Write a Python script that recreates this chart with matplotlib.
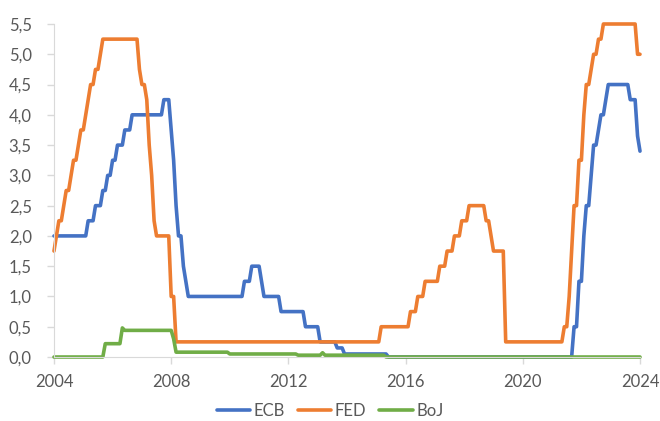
import matplotlib
matplotlib.use("Agg")
import matplotlib.pyplot as plt
import numpy as np
import pandas as pd

# ---- data: policy-rate changes (month, new rate), held until the next change ----
start_month = "2004-10"
end_month = "2024-10"

ecb_changes = [
    ("2004-10", 2.0), ("2005-12", 2.25), ("2006-03", 2.5), ("2006-06", 2.75),
    ("2006-08", 3.0), ("2006-10", 3.25), ("2006-12", 3.5), ("2007-03", 3.75),
    ("2007-06", 4.0), ("2008-07", 4.25), ("2008-10", 3.75), ("2008-11", 3.25),
    ("2008-12", 2.5), ("2009-01", 2.0), ("2009-03", 1.5), ("2009-04", 1.25),
    ("2009-05", 1.0), ("2011-04", 1.25), ("2011-07", 1.5), ("2011-11", 1.25),
    ("2011-12", 1.0), ("2012-07", 0.75), ("2013-05", 0.5), ("2013-11", 0.25),
    ("2014-06", 0.15), ("2014-09", 0.05), ("2016-03", 0.0), ("2022-07", 0.5),
    ("2022-09", 1.25), ("2022-11", 2.0), ("2022-12", 2.5), ("2023-02", 3.0),
    ("2023-03", 3.5), ("2023-05", 3.75), ("2023-06", 4.0), ("2023-08", 4.25),
    ("2023-09", 4.5), ("2024-06", 4.25), ("2024-09", 3.65), ("2024-10", 3.4),
]

fed_changes = [
    ("2004-10", 1.75), ("2004-11", 2.0), ("2004-12", 2.25), ("2005-02", 2.5),
    ("2005-03", 2.75), ("2005-05", 3.0), ("2005-06", 3.25), ("2005-08", 3.5),
    ("2005-09", 3.75), ("2005-11", 4.0), ("2005-12", 4.25), ("2006-01", 4.5),
    ("2006-03", 4.75), ("2006-05", 5.0), ("2006-06", 5.25), ("2007-09", 4.75),
    ("2007-10", 4.5), ("2007-12", 4.25), ("2008-01", 3.5), ("2008-02", 3.0),
    ("2008-03", 2.25), ("2008-04", 2.0), ("2008-10", 1.0), ("2008-12", 0.25),
    ("2015-12", 0.5), ("2016-12", 0.75), ("2017-03", 1.0), ("2017-06", 1.25),
    ("2017-12", 1.5), ("2018-03", 1.75), ("2018-06", 2.0), ("2018-09", 2.25),
    ("2018-12", 2.5), ("2019-07", 2.25), ("2019-09", 2.0), ("2019-10", 1.75),
    ("2020-03", 0.25), ("2022-03", 0.5), ("2022-05", 1.0), ("2022-06", 1.75),
    ("2022-07", 2.5), ("2022-09", 3.25), ("2022-11", 4.0), ("2022-12", 4.5),
    ("2023-02", 4.75), ("2023-03", 5.0), ("2023-05", 5.25), ("2023-07", 5.5),
    ("2024-09", 5.0),
]

boj_changes = [
    ("2004-10", 0.0), ("2006-07", 0.22), ("2007-02", 0.48), ("2007-03", 0.44),
    ("2008-11", 0.30), ("2008-12", 0.08), ("2010-10", 0.05), ("2013-02", 0.03),
    ("2013-12", 0.07), ("2014-01", 0.03), ("2016-02", 0.0),
]

series_names = ["ECB", "FED", "BoJ"]
series_colors = ["#4472C4", "#ED7D31", "#70AD47"]

x_tick_labels = ["2004", "2008", "2012", "2016", "2020", "2024"]
y_ticks = [0.0, 0.5, 1.0, 1.5, 2.0, 2.5, 3.0, 3.5, 4.0, 4.5, 5.0, 5.5]
y_tick_labels = ["0,0", "0,5", "1,0", "1,5", "2,0", "2,5", "3,0", "3,5",
                 "4,0", "4,5", "5,0", "5,5"]

# ---- build monthly series (rate held between decisions) ----
months = pd.period_range(start_month, end_month, freq="M")


def monthly(changes):
    s = pd.Series(np.nan, index=months)
    for m, v in changes:
        s[pd.Period(m, freq="M")] = v
    return s.ffill().to_numpy()


x = np.arange(len(months))
data = [monthly(ecb_changes), monthly(fed_changes), monthly(boj_changes)]

# ---- plot ----
plt.rcParams["font.family"] = ["Lato", "DejaVu Sans"]
fig = plt.figure(figsize=(6.6, 4.21), dpi=100)
ax = fig.add_axes([0.0818, 0.152, 0.8879, 0.791])

for name, color, y in zip(series_names, series_colors, data):
    ax.plot(x, y, color=color, lw=2.6, label=name,
            solid_joinstyle="round", solid_capstyle="round", clip_on=False)

x_tick_pos = [(int(t) - 2004) * 12 for t in x_tick_labels]
ax.set_xlim(0, len(months) - 1)
ax.set_ylim(0, 5.5)
ax.set_xticks(x_tick_pos)
ax.set_xticklabels(x_tick_labels)
ax.set_yticks(y_ticks)
ax.set_yticklabels(y_tick_labels)

grey = "#D9D9D9"
text_c = "#595959"
for side in ["top", "right"]:
    ax.spines[side].set_visible(False)
ax.spines["left"].set_color(grey)
ax.spines["bottom"].set_color(grey)
ax.tick_params(axis="both", colors=grey, labelcolor=text_c, labelsize=12,
               length=5, width=1)
ax.tick_params(axis="y", pad=11)
ax.tick_params(axis="x", pad=7)

leg = fig.legend(loc="center", bbox_to_anchor=(0.5, 0.024), ncol=3,
                 frameon=False, fontsize=12, handlelength=2.0,
                 handletextpad=0.2, columnspacing=0.8, borderpad=0.1)
for t in leg.get_texts():
    t.set_color(text_c)

fig.savefig("out.png", dpi=100)
